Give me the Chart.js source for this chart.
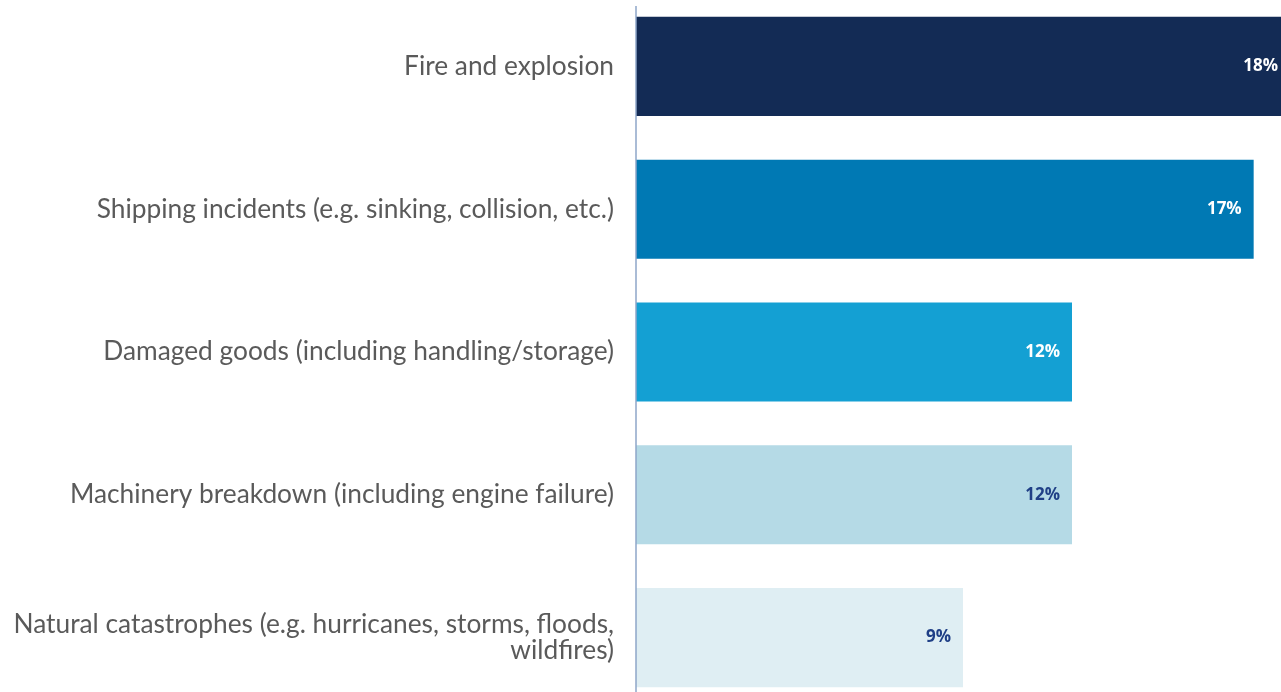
<!DOCTYPE html>
<html><head><meta charset="utf-8">
<script src="https://cdn.jsdelivr.net/npm/chart.js@4"></script>
<style>
html,body{margin:0;padding:0;background:#fff;overflow:hidden;width:1281px;height:692px;}
#wrap{position:absolute;left:0;top:-5px;width:1290px;height:714px;}
</style></head>
<body>
<div id="wrap"><canvas id="c"></canvas></div>
<script>
const categories = [
  "Fire and explosion",
  "Shipping incidents (e.g. sinking, collision, etc.)",
  "Damaged goods (including handling/storage)",
  "Machinery breakdown (including engine failure)",
  ["Natural catastrophes (e.g. hurricanes, storms, floods,", "wildfires)"]
];
const values = [18, 17, 12, 12, 9];
const valueLabels = ["18%", "17%", "12%", "12%", "9%"];
const barColors = ["#132b55", "#0079b4", "#14a0d3", "#b5dae6", "#dfeef3"];
const labelColors = ["#ffffff", "#ffffff", "#ffffff", "#1f3f86", "#1f3f86"];

const valuePlugin = {
  id: 'valueLabels',
  afterDatasetsDraw(chart) {
    const ctx = chart.ctx;
    const meta = chart.getDatasetMeta(0);
    ctx.save();
    ctx.font = 'bold 17px "Open Sans", sans-serif';
    ctx.textAlign = 'right';
    ctx.textBaseline = 'middle';
    meta.data.forEach((bar, i) => {
      ctx.fillStyle = labelColors[i];
      ctx.fillText(valueLabels[i], bar.x - 12, bar.y);
    });
    ctx.restore();
  }
};

const axisLinePlugin = {
  id: 'axisLine',
  afterDraw(chart) {
    const {ctx, chartArea} = chart;
    ctx.save();
    ctx.strokeStyle = '#8ea6c9';
    ctx.lineWidth = 1.5;
    ctx.beginPath();
    ctx.moveTo(chartArea.left, chartArea.top + 11);
    ctx.lineTo(chartArea.left, chartArea.bottom);
    ctx.stroke();
    ctx.restore();
  }
};

new Chart(document.getElementById('c'), {
  type: 'bar',
  data: {
    labels: categories,
    datasets: [{
      data: values,
      backgroundColor: barColors,
      borderWidth: 0,
      categoryPercentage: 1,
      barPercentage: 0.694
    }]
  },
  options: {
    indexAxis: 'y',
    responsive: true,
    maintainAspectRatio: false,
    animation: false,
    layout: { padding: 0 },
    plugins: { legend: { display: false }, tooltip: { enabled: false } },
    scales: {
      x: { display: false, min: 0, max: 18 },
      y: {
        afterFit(scale) { scale.width = 636; scale.paddingTop = 0; scale.paddingBottom = 0; },
        grid: { display: false, drawTicks: false },
        border: { display: false },
        ticks: {
          padding: 22,
          color: '#5a5a5a',
          font: { family: 'Lato', size: 26.3, weight: '400', lineHeight: 1.0 }
        }
      }
    }
  },
  plugins: [valuePlugin, axisLinePlugin]
});
</script>
</body></html>
